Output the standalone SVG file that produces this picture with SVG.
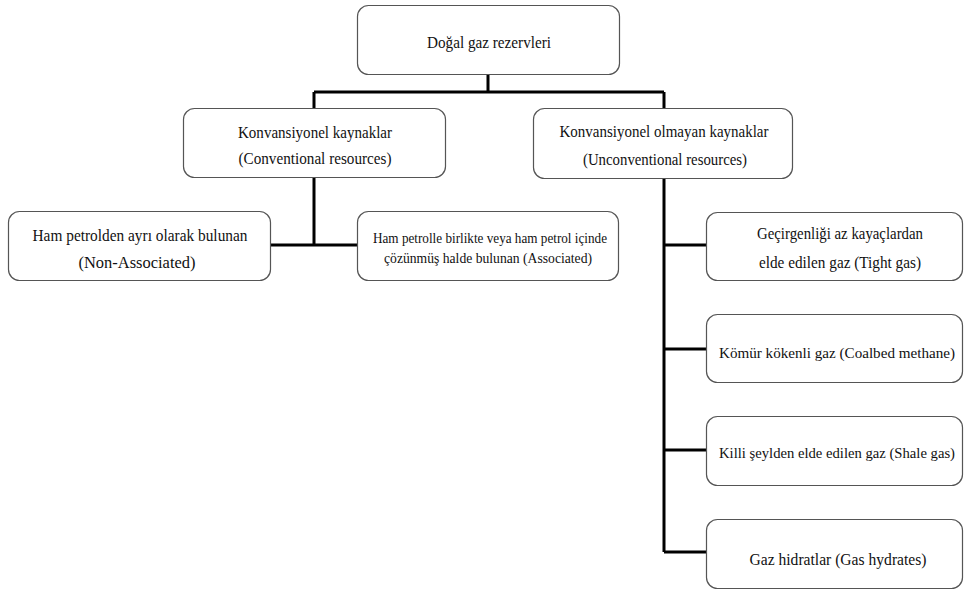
<svg xmlns="http://www.w3.org/2000/svg" width="964" height="593" viewBox="0 0 964 593" font-family="'Liberation Serif', 'Times New Roman', Times, 'DejaVu Serif', serif">
<style>
.box{fill:#fff;stroke:#555;stroke-width:1.2}
text{font-family:'Liberation Serif','Times New Roman',Times,'DejaVu Serif',serif;font-size:17px;fill:#111;text-anchor:middle}
.s{font-size:15px}
.c{stroke:#000;stroke-width:3;fill:none}
</style>
<rect width="964" height="593" fill="#fff"/>
<g id="connectors">
<path class="c" d="M488 74V92M314 92H664M314 92V108M664 92V108"/>
<path class="c" d="M314 177V245M270 245H357"/>
<path class="c" d="M664 178V552M664 245H706M664 349H706M664 450H706M664 552H706"/>
</g>
<g id="root"><rect class="box" x="357.5" y="5.5" width="262" height="69" rx="11"/>
<text x="489" y="48" textLength="124" lengthAdjust="spacingAndGlyphs">Doğal gaz rezervleri</text></g>
<g id="conventional"><rect class="box" x="183.5" y="108.5" width="262" height="69" rx="11"/>
<text x="315" y="138" textLength="154" lengthAdjust="spacingAndGlyphs">Konvansiyonel kaynaklar</text>
<text x="315" y="164" textLength="153" lengthAdjust="spacingAndGlyphs">(Conventional resources)</text></g>
<g id="unconventional"><rect class="box" x="533.5" y="108.5" width="259" height="70" rx="11"/>
<text x="664" y="137" textLength="209" lengthAdjust="spacingAndGlyphs">Konvansiyonel olmayan kaynaklar</text>
<text x="665" y="165" textLength="164" lengthAdjust="spacingAndGlyphs">(Unconventional resources)</text></g>
<g id="nonassociated"><rect class="box" x="8.5" y="211.5" width="262" height="69" rx="11"/>
<text x="140" y="241" textLength="215" lengthAdjust="spacingAndGlyphs">Ham petrolden ayrı olarak bulunan</text>
<text x="137" y="268" textLength="117" lengthAdjust="spacingAndGlyphs">(Non-Associated)</text></g>
<g id="associated"><rect class="box" x="357.5" y="211.5" width="261" height="69" rx="11"/>
<text class="s" x="490" y="243" textLength="234" lengthAdjust="spacingAndGlyphs">Ham petrolle birlikte veya ham petrol içinde</text>
<text class="s" x="488" y="263" textLength="208" lengthAdjust="spacingAndGlyphs">çözünmüş halde bulunan (Associated)</text></g>
<g id="tight"><rect class="box" x="706.5" y="212.5" width="256" height="68" rx="11"/>
<text x="840" y="239" textLength="166" lengthAdjust="spacingAndGlyphs">Geçirgenliği az kayaçlardan</text>
<text x="840" y="268" textLength="162" lengthAdjust="spacingAndGlyphs">elde edilen gaz (Tight gas)</text></g>
<g id="coalbed"><rect class="box" x="706.5" y="314.5" width="256" height="68" rx="11"/>
<text class="s" x="837" y="358" textLength="236" lengthAdjust="spacingAndGlyphs">Kömür kökenli gaz (Coalbed methane)</text></g>
<g id="shale"><rect class="box" x="706.5" y="416.5" width="256" height="69" rx="11"/>
<text class="s" x="837" y="458" textLength="236" lengthAdjust="spacingAndGlyphs">Killi şeylden elde edilen gaz (Shale gas)</text></g>
<g id="hydrates"><rect class="box" x="706.5" y="519.5" width="256" height="69" rx="11"/>
<text x="838" y="565" textLength="177" lengthAdjust="spacingAndGlyphs">Gaz hidratlar (Gas hydrates)</text></g>
</svg>
